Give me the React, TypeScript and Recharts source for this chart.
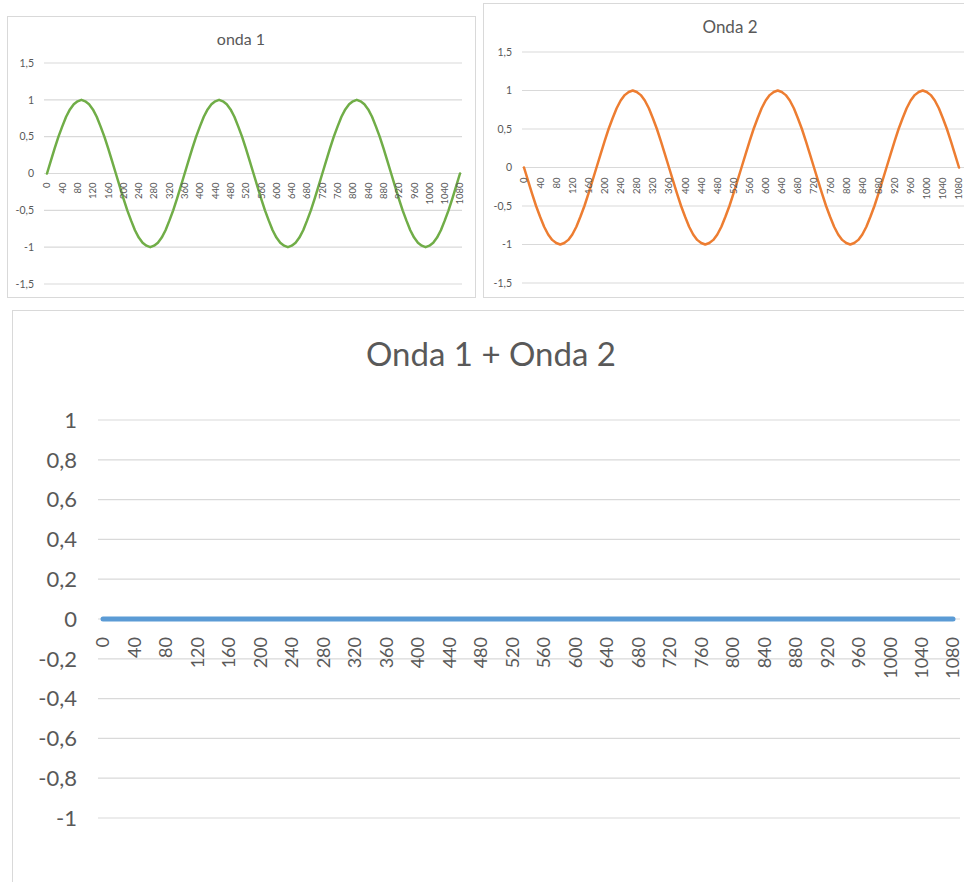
import React from "react"
import { LineChart, Line, XAxis, YAxis, CartesianGrid } from "recharts"

// angle in degrees, one point every 10
const angles = [
  0, 10, 20, 30, 40, 50, 60, 70, 80, 90, 100, 110, 120, 130, 140, 150, 160, 170,
  180, 190, 200, 210, 220, 230, 240, 250, 260, 270, 280, 290, 300, 310, 320, 330, 340, 350,
  360, 370, 380, 390, 400, 410, 420, 430, 440, 450, 460, 470, 480, 490, 500, 510, 520, 530,
  540, 550, 560, 570, 580, 590, 600, 610, 620, 630, 640, 650, 660, 670, 680, 690, 700, 710,
  720, 730, 740, 750, 760, 770, 780, 790, 800, 810, 820, 830, 840, 850, 860, 870, 880, 890,
  900, 910, 920, 930, 940, 950, 960, 970, 980, 990, 1000, 1010, 1020, 1030, 1040, 1050, 1060, 1070,
  1080,
]

const onda1 = [
  0, 0.17, 0.34, 0.5, 0.64, 0.77, 0.87, 0.94, 0.98, 1, 0.98, 0.94, 0.87, 0.77, 0.64, 0.5, 0.34, 0.17,
  0, -0.17, -0.34, -0.5, -0.64, -0.77, -0.87, -0.94, -0.98, -1, -0.98, -0.94, -0.87, -0.77, -0.64, -0.5, -0.34, -0.17,
  0, 0.17, 0.34, 0.5, 0.64, 0.77, 0.87, 0.94, 0.98, 1, 0.98, 0.94, 0.87, 0.77, 0.64, 0.5, 0.34, 0.17,
  0, -0.17, -0.34, -0.5, -0.64, -0.77, -0.87, -0.94, -0.98, -1, -0.98, -0.94, -0.87, -0.77, -0.64, -0.5, -0.34, -0.17,
  0, 0.17, 0.34, 0.5, 0.64, 0.77, 0.87, 0.94, 0.98, 1, 0.98, 0.94, 0.87, 0.77, 0.64, 0.5, 0.34, 0.17,
  0, -0.17, -0.34, -0.5, -0.64, -0.77, -0.87, -0.94, -0.98, -1, -0.98, -0.94, -0.87, -0.77, -0.64, -0.5, -0.34, -0.17,
  0,
]

const onda2 = [
  0, -0.17, -0.34, -0.5, -0.64, -0.77, -0.87, -0.94, -0.98, -1, -0.98, -0.94, -0.87, -0.77, -0.64, -0.5, -0.34, -0.17,
  0, 0.17, 0.34, 0.5, 0.64, 0.77, 0.87, 0.94, 0.98, 1, 0.98, 0.94, 0.87, 0.77, 0.64, 0.5, 0.34, 0.17,
  0, -0.17, -0.34, -0.5, -0.64, -0.77, -0.87, -0.94, -0.98, -1, -0.98, -0.94, -0.87, -0.77, -0.64, -0.5, -0.34, -0.17,
  0, 0.17, 0.34, 0.5, 0.64, 0.77, 0.87, 0.94, 0.98, 1, 0.98, 0.94, 0.87, 0.77, 0.64, 0.5, 0.34, 0.17,
  0, -0.17, -0.34, -0.5, -0.64, -0.77, -0.87, -0.94, -0.98, -1, -0.98, -0.94, -0.87, -0.77, -0.64, -0.5, -0.34, -0.17,
  0, 0.17, 0.34, 0.5, 0.64, 0.77, 0.87, 0.94, 0.98, 1, 0.98, 0.94, 0.87, 0.77, 0.64, 0.5, 0.34, 0.17,
  0,
]

const ondaSoma = [
  0, 0, 0, 0, 0, 0, 0, 0, 0, 0, 0, 0, 0, 0, 0, 0, 0, 0,
  0, 0, 0, 0, 0, 0, 0, 0, 0, 0, 0, 0, 0, 0, 0, 0, 0, 0,
  0, 0, 0, 0, 0, 0, 0, 0, 0, 0, 0, 0, 0, 0, 0, 0, 0, 0,
  0, 0, 0, 0, 0, 0, 0, 0, 0, 0, 0, 0, 0, 0, 0, 0, 0, 0,
  0, 0, 0, 0, 0, 0, 0, 0, 0, 0, 0, 0, 0, 0, 0, 0, 0, 0,
  0, 0, 0, 0, 0, 0, 0, 0, 0, 0, 0, 0, 0, 0, 0, 0, 0, 0,
  0,
]

const smallTicks = [-1.5, -1, -0.5, 0, 0.5, 1, 1.5]
const bigTicks = [-1, -0.8, -0.6, -0.4, -0.2, 0, 0.2, 0.4, 0.6, 0.8, 1]

const data = angles.map((angle, i) => ({
  angle,
  onda1: onda1[i],
  onda2: onda2[i],
  soma: ondaSoma[i],
}))

const FONT = "Lato, 'Open Sans', sans-serif"
const TEXT = "#595959"
const GRID = "#d9d9d9"

const fmt = (v: number) => String(v).replace(".", ",")

// Excel draws the category labels where the axis crosses zero, rotated 270deg
function zeroTick(zeroY: number, gap: number, fontSize: number) {
  return (props: any) => (
    <text
      x={0}
      y={0}
      transform={`translate(${props.x},${zeroY + gap}) rotate(-90)`}
      textAnchor="end"
      dy="0.36em"
      fill={TEXT}
      fontSize={fontSize}
      fontFamily={FONT}
    >
      {props.payload.value}
    </text>
  )
}

function Title({ text, cx, cy, size }: { text: string; cx: number; cy: number; size: number }) {
  return (
    <div
      style={{
        position: "absolute",
        left: cx,
        top: cy,
        transform: "translate(-50%, -50%)",
        fontFamily: FONT,
        fontSize: size,
        color: TEXT,
        whiteSpace: "nowrap",
        lineHeight: 1,
      }}
    >
      {text}
    </div>
  )
}

interface PanelProps {
  left: number
  top: number
  width: number
  height: number
  chartW: number
  chartH: number
  margin: { top: number; right: number; bottom: number; left: number }
  yWidth: number
  yGap: number
  domain: [number, number]
  ticks: number[]
  dataKey: string
  color: string
  strokeWidth: number
  yFont: number
  xFont: number
  xGap: number
  pad: { left: number; right: number }
}

function Panel(p: PanelProps) {
  // x axis takes 1px at the bottom, the rest is margin
  const plotH = p.chartH - p.margin.top - p.margin.bottom - 1
  const zeroY = p.margin.top + plotH / 2
  return (
    <div
      style={{
        position: "absolute",
        left: p.left,
        top: p.top,
        width: p.width,
        height: p.height,
        border: `1px solid ${GRID}`,
        background: "#fff",
      }}
    >
      <LineChart width={p.chartW} height={p.chartH} data={data} margin={p.margin}>
        <CartesianGrid vertical={false} stroke={GRID} strokeWidth={1.2} />
        <XAxis
          dataKey="angle"
          height={1}
          axisLine={false}
          tickLine={false}
          interval={3}
          padding={p.pad}
          tick={zeroTick(zeroY, p.xGap, p.xFont)}
        />
        <YAxis
          type="number"
          domain={p.domain}
          ticks={p.ticks}
          width={p.yWidth}
          axisLine={false}
          tickLine={false}
          tickSize={0}
          tickMargin={p.yGap}
          tickFormatter={fmt}
          tick={{ fill: TEXT, fontSize: p.yFont, fontFamily: FONT }}
        />
        <Line
          type="linear"
          dataKey={p.dataKey}
          stroke={p.color}
          strokeWidth={p.strokeWidth}
          strokeLinecap="round"
          strokeLinejoin="round"
          dot={false}
          isAnimationActive={false}
        />
      </LineChart>
    </div>
  )
}

export default function App() {
  return (
    <div
      style={{
        position: "absolute",
        left: 0,
        top: 0,
        width: 964,
        height: 882,
        overflow: "hidden",
        background: "#fff",
      }}
    >
      <Panel
        left={7}
        top={16}
        width={467}
        height={280}
        chartW={467}
        chartH={280}
        margin={{ top: 46, right: 13, bottom: 12, left: 0 }}
        yWidth={36}
        yGap={10}
        domain={[-1.5, 1.5]}
        ticks={smallTicks}
        dataKey="onda1"
        color="#70ad47"
        strokeWidth={2.5}
        yFont={10.5}
        xFont={9.5}
        xGap={9}
        pad={{ left: 3, right: 2 }}
      />
      <Title text="onda 1" cx={241} cy={39} size={16} />

      <Panel
        left={483}
        top={3}
        width={520}
        height={293}
        chartW={490}
        chartH={293}
        margin={{ top: 48, right: 10, bottom: 13, left: 0 }}
        yWidth={38}
        yGap={10}
        domain={[-1.5, 1.5]}
        ticks={smallTicks}
        dataKey="onda2"
        color="#ed7d31"
        strokeWidth={2.5}
        yFont={10.5}
        xFont={9.5}
        xGap={10}
        pad={{ left: 2, right: 5 }}
      />
      <Title text="Onda 2" cx={730} cy={26} size={17} />

      <Panel
        left={12}
        top={310}
        width={1000}
        height={620}
        chartW={967}
        chartH={600}
        margin={{ top: 109, right: 20, bottom: 92, left: 0 }}
        yWidth={85}
        yGap={21}
        domain={[-1, 1]}
        ticks={bigTicks}
        dataKey="soma"
        color="#5b9bd5"
        strokeWidth={5}
        yFont={22}
        xFont={18}
        xGap={18}
        pad={{ left: 5, right: 7 }}
      />
      <Title text="Onda 1 + Onda 2" cx={491} cy={353} size={33} />
    </div>
  )
}
